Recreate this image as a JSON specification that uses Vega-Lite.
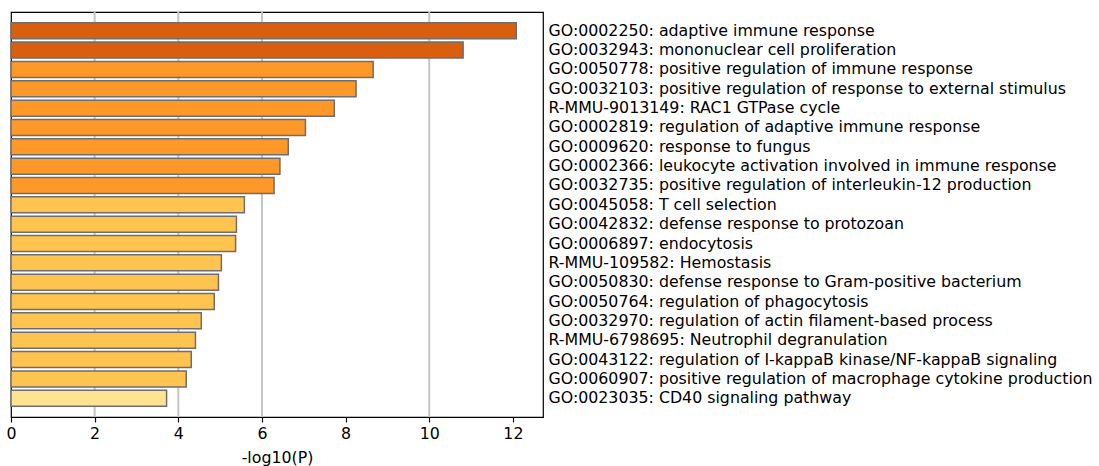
{
  "$schema": "https://vega.github.io/schema/vega-lite/v6.json",
  "autosize": {"type": "none"},
  "padding": {"left": 11, "top": 12, "right": 556, "bottom": 49},
  "width": 532,
  "height": 405,
  "background": "white",
  "config": {
    "font": "DejaVu Sans",
    "view": {"stroke": "black", "strokeWidth": 1.2}
  },
  "datasets": {
    "terms": [
      {"term": "GO:0002250: adaptive immune response", "logp": 12.08, "level": "L1"},
      {"term": "GO:0032943: mononuclear cell proliferation", "logp": 10.81, "level": "L1"},
      {"term": "GO:0050778: positive regulation of immune response", "logp": 8.66, "level": "L2"},
      {"term": "GO:0032103: positive regulation of response to external stimulus", "logp": 8.25, "level": "L2"},
      {"term": "R-MMU-9013149: RAC1 GTPase cycle", "logp": 7.73, "level": "L2"},
      {"term": "GO:0002819: regulation of adaptive immune response", "logp": 7.04, "level": "L2"},
      {"term": "GO:0009620: response to fungus", "logp": 6.63, "level": "L2"},
      {"term": "GO:0002366: leukocyte activation involved in immune response", "logp": 6.43, "level": "L2"},
      {"term": "GO:0032735: positive regulation of interleukin-12 production", "logp": 6.29, "level": "L2"},
      {"term": "GO:0045058: T cell selection", "logp": 5.58, "level": "L3"},
      {"term": "GO:0042832: defense response to protozoan", "logp": 5.39, "level": "L3"},
      {"term": "GO:0006897: endocytosis", "logp": 5.37, "level": "L3"},
      {"term": "R-MMU-109582: Hemostasis", "logp": 5.03, "level": "L3"},
      {"term": "GO:0050830: defense response to Gram-positive bacterium", "logp": 4.96, "level": "L3"},
      {"term": "GO:0050764: regulation of phagocytosis", "logp": 4.86, "level": "L3"},
      {"term": "GO:0032970: regulation of actin filament-based process", "logp": 4.55, "level": "L3"},
      {"term": "R-MMU-6798695: Neutrophil degranulation", "logp": 4.41, "level": "L3"},
      {"term": "GO:0043122: regulation of I-kappaB kinase/NF-kappaB signaling", "logp": 4.31, "level": "L3"},
      {"term": "GO:0060907: positive regulation of macrophage cytokine production", "logp": 4.19, "level": "L3"},
      {"term": "GO:0023035: CD40 signaling pathway", "logp": 3.72, "level": "L4"}
    ],
    "grid": [{"v": 2}, {"v": 4}, {"v": 6}, {"v": 10}]
  },
  "layer": [
    {
      "data": {"name": "grid"},
      "mark": {"type": "rule", "color": "#c4c4c4", "strokeWidth": 2},
      "encoding": {
        "x": {"field": "v", "type": "quantitative", "scale": {"domain": [0, 12.72], "nice": false, "zero": true}}
      }
    },
    {
      "data": {"name": "terms"},
      "mark": {"type": "bar", "stroke": "#6e6e6e", "strokeWidth": 1.5},
      "encoding": {
        "y": {
          "field": "term", "type": "nominal", "sort": null,
          "scale": {"paddingInner": 0.173, "paddingOuter": 0.557, "align": 0.5},
          "axis": {
            "orient": "right", "title": null, "domain": false, "ticks": false,
            "labelAlign": "left", "labelPadding": 5, "labelLimit": 1000,
            "labelFontSize": 15.8, "labelColor": "black"
          }
        },
        "x": {
          "field": "logp", "type": "quantitative",
          "scale": {"domain": [0, 12.72], "nice": false, "zero": true},
          "axis": {
            "title": "-log10(P)", "values": [0, 2, 4, 6, 8, 10, 12], "grid": false, "labelFlush": false,
            "domainColor": "black", "domainWidth": 1.2, "tickColor": "black", "tickWidth": 1.2, "tickSize": 5,
            "labelFontSize": 15.8, "labelColor": "black", "labelPadding": 4,
            "titleFontSize": 15.8, "titleFontWeight": "normal", "titleColor": "black", "titlePadding": 10
          }
        },
        "color": {
          "field": "level", "type": "nominal", "legend": null,
          "scale": {"domain": ["L1", "L2", "L3", "L4"], "range": ["#d95f0e", "#fe9929", "#fec44f", "#fee391"]}
        }
      }
    }
  ]
}
